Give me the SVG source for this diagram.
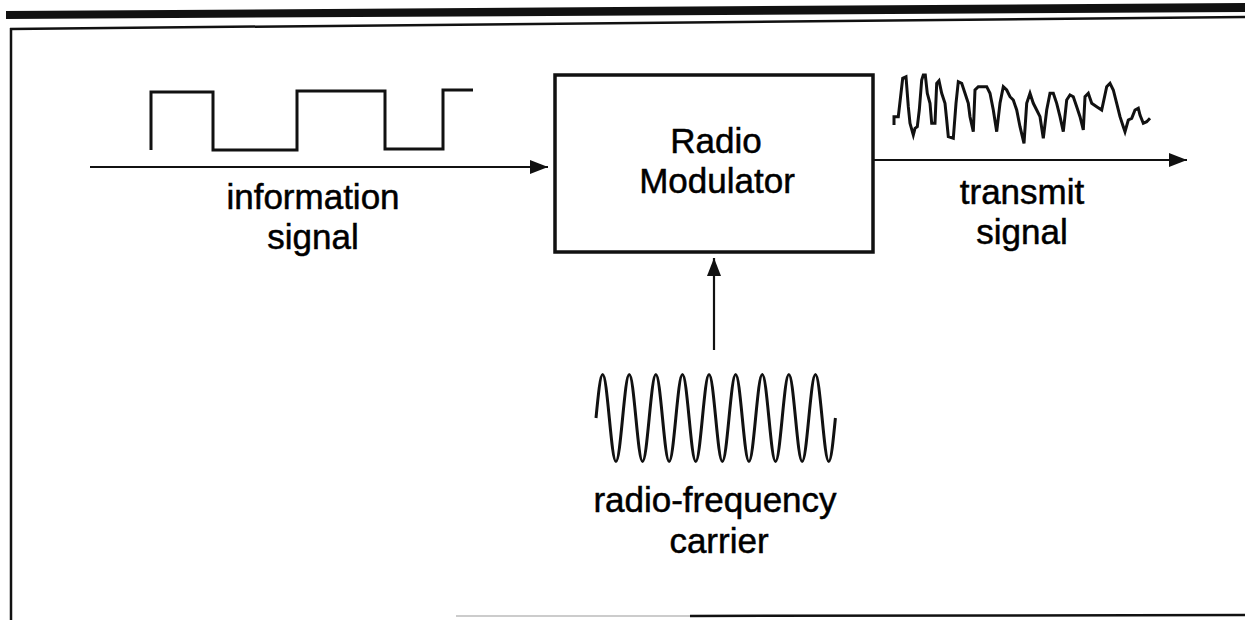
<svg xmlns="http://www.w3.org/2000/svg" width="1245" height="620" viewBox="0 0 1245 620">
<style>
.lbl{font-family:"Liberation Sans",Arial,Helvetica,sans-serif;font-size:35px;fill:#000;stroke:#000;stroke-width:0.5;text-anchor:middle}
.wave{fill:none;stroke:#111;stroke-width:3;stroke-linejoin:miter}
.conn{fill:none;stroke:#111;stroke-width:2.2}
.frame{fill:none;stroke:#111}
</style>
<defs>
<marker id="ah" markerUnits="userSpaceOnUse" markerWidth="20" markerHeight="14" refX="18" refY="7" orient="auto">
<path d="M0,0 L18,7 L0,14 Z" fill="#111"/>
</marker>
</defs>
<rect width="1245" height="620" fill="#fff"/>
<g id="frame">
<polygon points="6,11 1245,3 1245,12 6,19" fill="#111"/>
<line class="frame" x1="10" y1="29" x2="1245" y2="17" stroke-width="2.5"/>
<line class="frame" x1="11" y1="28" x2="11" y2="620" stroke-width="2.5"/>
<line x1="456" y1="616" x2="690" y2="616" stroke="#bbb" stroke-width="1.5"/>
<line class="frame" x1="690" y1="616" x2="1245" y2="615" stroke-width="2.5"/>
</g>
<g id="connectors">
<line class="conn" x1="90" y1="167" x2="548" y2="167" marker-end="url(#ah)"/>
<line class="conn" x1="873" y1="160" x2="1187" y2="160" marker-end="url(#ah)"/>
<line class="conn" x1="714" y1="350" x2="714" y2="258" marker-end="url(#ah)"/>
</g>
<g id="modulator">
<rect x="555" y="75" width="318" height="177" fill="#fff" stroke="#111" stroke-width="3.5"/>
<text class="lbl" x="716" y="153">Radio</text>
<text class="lbl" x="717" y="193">Modulator</text>
</g>
<g id="information-signal">
<polyline class="wave" points="151,150 151,92 213,92 213,150 297,150 297,91 385,91 385,149 443,149 443,90 473,90"/>
<text class="lbl" x="313" y="209">information</text>
<text class="lbl" x="313" y="249">signal</text>
</g>
<g id="transmit-signal">
<polyline class="wave" points="894,125 894,116.7 898.3,116.7 902.7,78.3 906,76.7 908.3,106.7 910,123.3 913.3,135 915,128.3 917.3,126.7 919.3,110 921.7,80 923.3,75 925.3,75 927.3,93.3 930,103.3 931.7,123.3 935,123.3 936.7,83.3 939,80.7 941.7,93.3 945,103.3 946.7,120 948.3,136.7 953.3,138.3 956,103.3 958.3,81.7 961.7,83.3 965,93.3 968.3,103.3 970,116.7 973.3,131.7 975,90 978.3,86.7 986.7,86.7 990,93.3 993.3,110 996.7,131.7 1000,103.3 1003.3,86.7 1006.7,90 1010,96.7 1013.3,100 1016.7,110 1020,126.7 1024,143.3 1026.7,103.3 1030,93.3 1033.3,103.3 1036.7,110 1040,116.7 1043.3,138.3 1046.7,110 1050,93.3 1053.3,93.3 1056.7,103.3 1060,116.7 1063.3,131.7 1066.7,100 1070,95 1073.3,96.7 1076.7,106.7 1080,116.7 1083.3,130 1085,96.7 1088.3,93.3 1091.7,103.3 1096.7,106.7 1101.7,110 1106.7,86.7 1110,83.3 1113.3,90 1116.7,103.3 1120,116.7 1123.3,126.7 1125,131.7 1128.3,120 1131.7,118.3 1135,110 1138.3,108.3 1140,115 1143.3,123.3 1146.7,121.7 1150,118.3"/>
<text class="lbl" x="1022" y="204">transmit</text>
<text class="lbl" x="1022" y="244">signal</text>
</g>
<g id="rf-carrier">
<path class="wave" stroke-width="2.8" d="M596,418
c2.223,-22.84 4.255,-43.5 6.65,-43.5 c2.395,0 4.427,20.66 6.65,43.5 c2.223,22.84 4.255,43.5 6.65,43.5 c2.395,0 4.427,-20.66 6.65,-43.5
c2.223,-22.84 4.255,-43.5 6.65,-43.5 c2.395,0 4.427,20.66 6.65,43.5 c2.223,22.84 4.255,43.5 6.65,43.5 c2.395,0 4.427,-20.66 6.65,-43.5
c2.223,-22.84 4.255,-43.5 6.65,-43.5 c2.395,0 4.427,20.66 6.65,43.5 c2.223,22.84 4.255,43.5 6.65,43.5 c2.395,0 4.427,-20.66 6.65,-43.5
c2.223,-22.84 4.255,-43.5 6.65,-43.5 c2.395,0 4.427,20.66 6.65,43.5 c2.223,22.84 4.255,43.5 6.65,43.5 c2.395,0 4.427,-20.66 6.65,-43.5
c2.223,-22.84 4.255,-43.5 6.65,-43.5 c2.395,0 4.427,20.66 6.65,43.5 c2.223,22.84 4.255,43.5 6.65,43.5 c2.395,0 4.427,-20.66 6.65,-43.5
c2.223,-22.84 4.255,-43.5 6.65,-43.5 c2.395,0 4.427,20.66 6.65,43.5 c2.223,22.84 4.255,43.5 6.65,43.5 c2.395,0 4.427,-20.66 6.65,-43.5
c2.223,-22.84 4.255,-43.5 6.65,-43.5 c2.395,0 4.427,20.66 6.65,43.5 c2.223,22.84 4.255,43.5 6.65,43.5 c2.395,0 4.427,-20.66 6.65,-43.5
c2.223,-22.84 4.255,-43.5 6.65,-43.5 c2.395,0 4.427,20.66 6.65,43.5 c2.223,22.84 4.255,43.5 6.65,43.5 c2.395,0 4.427,-20.66 6.65,-43.5
c2.223,-22.84 4.255,-43.5 6.65,-43.5 c2.395,0 4.427,20.66 6.65,43.5 c2.223,22.84 4.255,43.5 6.65,43.5 c2.395,0 4.427,-20.66 6.65,-43.5"/>
<text class="lbl" x="715" y="512">radio-frequency</text>
<text class="lbl" x="719" y="553">carrier</text>
</g>
</svg>
